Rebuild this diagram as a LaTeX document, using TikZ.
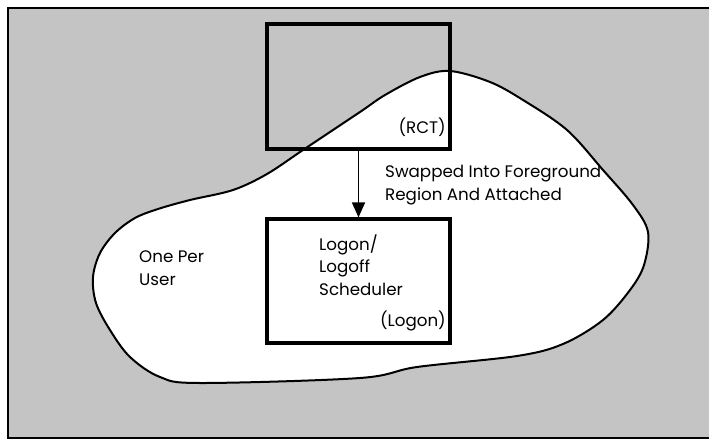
\documentclass[tikz,border=0pt]{standalone}
\usepackage{fontspec}
\setmainfont{Poppins}
\usetikzlibrary{positioning}
\usetikzlibrary{arrows.meta}
\tikzset{
    frame/.style = {line width=2.2pt,draw=black},
    shade/.style = {fill=black!23,draw=none},
    region/.style = {fill=white,draw=black,line width=2pt},
    module/.style = {rectangle,line width=3.2pt,draw=black,inner sep=0pt},
    txt/.style = {align=left,inner sep=0pt,font=\fontsize{16.7}{22.5}\selectfont},
    edgen/.style = {-{Triangle[length=15pt,width=13pt]},line width=1.8pt},
}
\begin{document}
\begin{tikzpicture}[x=1pt,y=-1pt]
\useasboundingbox (0,0) rectangle (709,441);
%
\fill[shade] (8,8) rectangle (709,438);
\draw[region] plot[smooth cycle,tension=0.55] coordinates {
  (450,71) (490,82) (523,100) (567,130) (603,170) (633,205) (648,232) (644,265)
  (630,290) (603,320) (563,344) (517,356) (417,367) (360,378) (200,383)
  (160,377) (130,357) (110,330) (96,303) (93,277) (100,253) (115,233)
  (135,218) (158,209) (190,200) (233,190) (267,174) (303,150) (360,112)
  (385,95) (420,77)};
\draw[frame] (709,8) -- (8,8) -- (8,438) -- (709,438);
%
\node[module,minimum width=183pt,minimum height=125pt] at (358.5,86.5) (rct) {};
\node[module,minimum width=183pt,minimum height=124pt] at (358.5,281) (logon) {};
\node[txt,anchor=base east] at (446,134) (rctname) {(RCT)};
\node[txt,anchor=base west] at (385,200) (swap) {Swapped Into Foreground\\Region And Attached};
\node[txt,anchor=base west] at (319,295) (sched) {Logon/\\Logoff\\Scheduler};
\node[txt,anchor=base east] at (446,326) (logonname) {(Logon)};
\node[txt,anchor=base west] at (139,285) (user) {One Per\\User};
%
\draw[edgen] (rct) -- (logon);
\end{tikzpicture}
\end{document}
